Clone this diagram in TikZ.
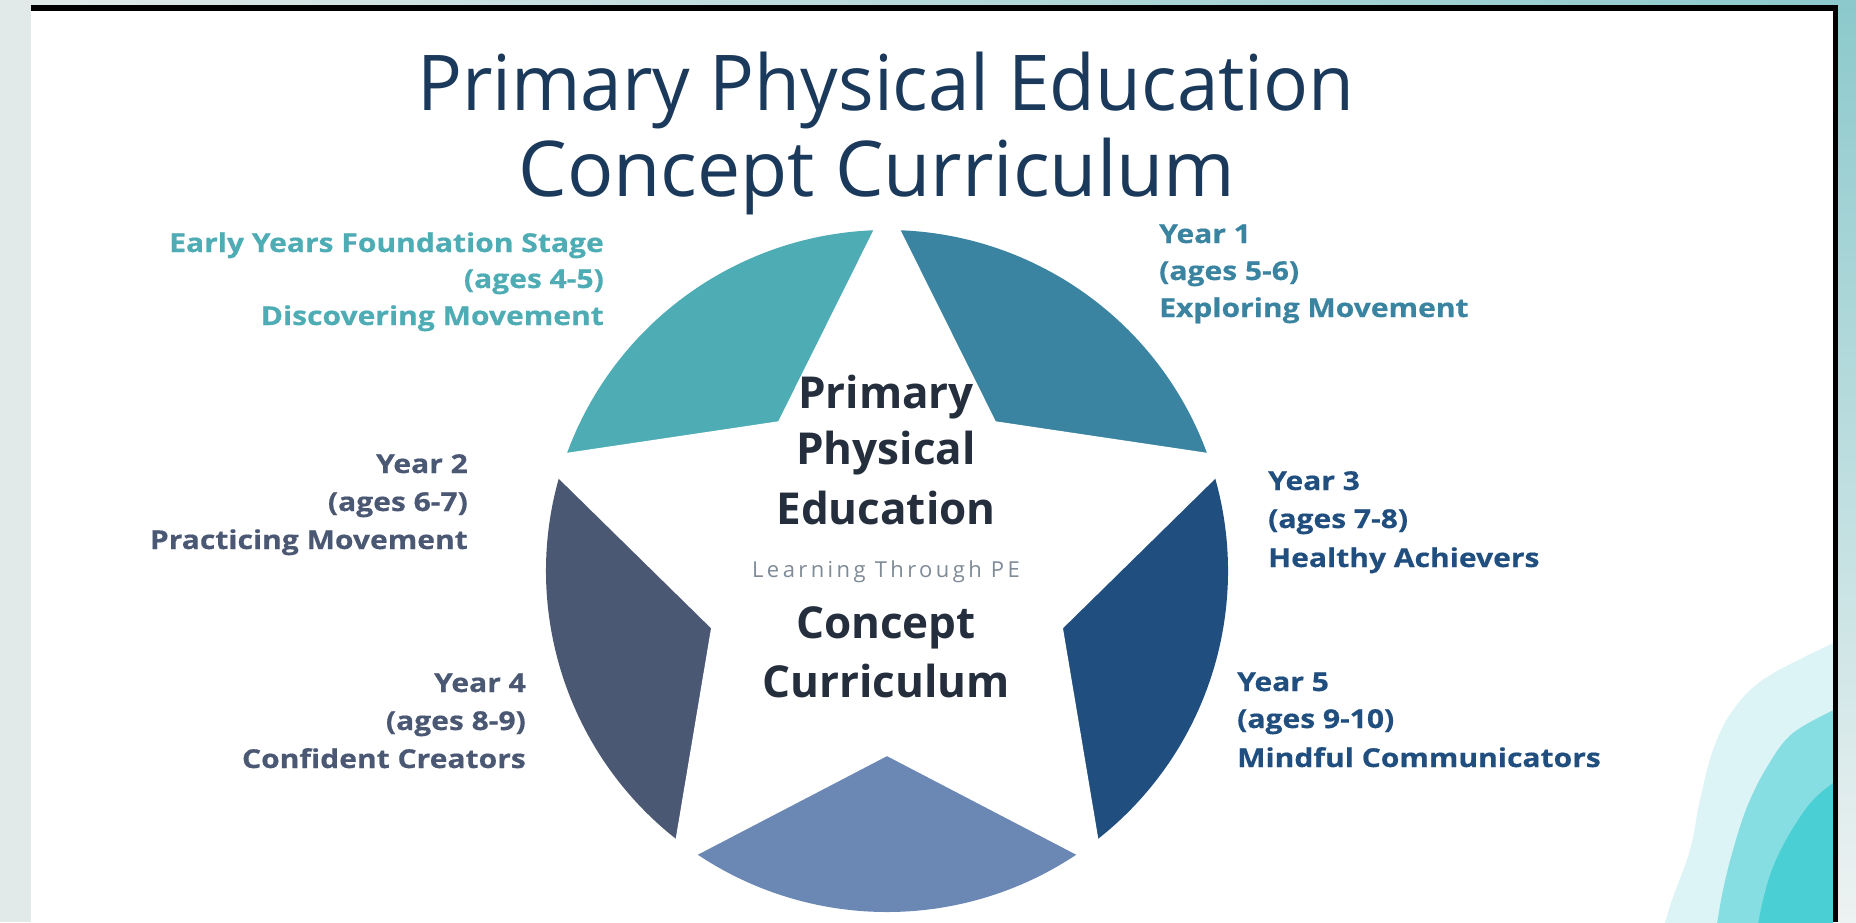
\documentclass[tikz,border=0pt]{standalone}
\usepackage{fontspec}
\setmainfont{Open Sans}
\definecolor{titlecol}{HTML}{1B3A5B}
\definecolor{segTL}{HTML}{4DACB4}
\definecolor{segTR}{HTML}{3A84A1}
\definecolor{segR}{HTML}{1F4E7F}
\definecolor{segB}{HTML}{6B88B5}
\definecolor{segL}{HTML}{4A5873}
\definecolor{centercol}{HTML}{252E3D}
\definecolor{subcol}{HTML}{7F8B97}
\definecolor{waveA}{HTML}{DCF4F5}
\definecolor{waveB}{HTML}{86DEE2}
\definecolor{waveC}{HTML}{4ACFD5}
\definecolor{bggray}{HTML}{E2EAE9}
\definecolor{bgteal}{HTML}{8CC9CC}
\definecolor{bglight}{HTML}{EDF2F2}
\begin{document}
\begin{tikzpicture}[x=1pt,y=-1pt,
  titletxt/.style={font=\fontsize{77}{85}\selectfont, text=titlecol, inner sep=0pt, anchor=base},
  ctr/.style={font=\fontsize{44}{50}\selectfont\bfseries, text=centercol, inner sep=0pt, anchor=base},
  subtxt/.style={font=\fontsize{22}{26}\selectfont\addfontfeature{LetterSpace=15.5}, text=subcol, inner sep=0pt, anchor=base},
  lblfont/.style={font=\fontsize{26}{30}\selectfont\bfseries\addfontfeature{FakeStretch=1.155,FakeBold=0.5}, inner sep=0pt},
  lblR/.style={lblfont, anchor=base east},
  lblL/.style={lblfont, anchor=base west}
]
\useasboundingbox (0,0) rectangle (1856,922);
% background outside slide
\fill[bggray] (0,0) rectangle (1856,922);
\shade[left color=bggray, right color=bgteal] (0,0) rectangle (1856,5);
\shade[top color=bgteal, bottom color=bglight] (1838,0) rectangle (1856,922);
% slide
\fill[white] (31,5) rectangle (1838,922);
\begin{scope}
  \clip (31,11) rectangle (1833,922);
  \fill[waveA] plot[smooth, tension=0.6] coordinates {(1840,640) (1767,677) (1733,710) (1713,750) (1700,800) (1690,850) (1672,900) (1663,930)} -- (1840,930) -- cycle;
  \fill[waveB] plot[smooth, tension=0.6] coordinates {(1840,707) (1793,733) (1767,767) (1747,807) (1733,850) (1723,890) (1716,930)} -- (1840,930) -- cycle;
  \fill[waveC] plot[smooth, tension=0.6] coordinates {(1840,778) (1813,800) (1790,833) (1773,867) (1763,900) (1757,930)} -- (1840,930) -- cycle;
\end{scope}
\fill[black] (31,5) rectangle (1838,11);
\fill[black] (1833,5) rectangle (1838,922);
% star wheel
\begin{scope}[shift={(887pt,-571pt)}, x=1pt, y=1pt]
  \fill[segTR] (0,0) -- (18:341) arc[start angle=18, end angle=90, radius=341] -- cycle;
  \fill[segTL] (0,0) -- (90:341) arc[start angle=90, end angle=162, radius=341] -- cycle;
  \fill[segL] (0,0) -- (162:341) arc[start angle=162, end angle=234, radius=341] -- cycle;
  \fill[segB] (0,0) -- (234:341) arc[start angle=234, end angle=306, radius=341] -- cycle;
  \fill[segR] (0,0) -- (306:341) arc[start angle=306, end angle=378, radius=341] -- cycle;
  \fill[white] (90:368) -- (126:185) -- (162:368) -- (198:185) -- (234:368) -- (270:185)
    -- (306:368) -- (342:185) -- (18:368) -- (54:185) -- cycle;
\end{scope}
% title
\node[titletxt, font=\fontsize{77}{85}\selectfont\addfontfeature{FakeStretch=0.97}] (t1) at (886,110) {Primary Physical Education};
\node[titletxt] (t2) at (877,196) {Concept Curriculum};
% centre
\node[ctr] (c1) at (886,408) {Primary};
\node[ctr] (c2) at (886,464) {Physical};
\node[ctr] (c3) at (886,524) {Education};
\node[subtxt] (c4) at (886,577) {Learning Through PE};
\node[ctr] (c5) at (886,638) {Concept};
\node[ctr] (c6) at (886,697) {Curriculum};
% labels
\node[lblR, text=segTL] (e1) at (604,252) {Early Years Foundation Stage};
\node[lblR, text=segTL] (e2) at (604,288) {(ages 4-5)};
\node[lblR, text=segTL] (e3) at (604,325) {Discovering Movement};
\node[lblL, text=segTR] (a1) at (1159,243) {Year 1};
\node[lblL, text=segTR] (a2) at (1159,280) {(ages 5-6)};
\node[lblL, text=segTR] (a3) at (1159,317) {Exploring Movement};
\node[lblR, text=segL] (b1) at (468,473) {Year 2};
\node[lblR, text=segL] (b2) at (468,511) {(ages 6-7)};
\node[lblR, text=segL] (b3) at (468,549) {Practicing Movement};
\node[lblL, text=segR] (d1) at (1268,490) {Year 3};
\node[lblL, text=segR] (d2) at (1268,528) {(ages 7-8)};
\node[lblL, text=segR] (d3) at (1268,567) {Healthy Achievers};
\node[lblR, text=segL] (f1) at (526,692) {Year 4};
\node[lblR, text=segL] (f2) at (526,730) {(ages 8-9)};
\node[lblR, text=segL] (f3) at (526,768) {Confident Creators};
\node[lblL, text=segR] (g1) at (1237,691) {Year 5};
\node[lblL, text=segR] (g2) at (1237,728) {(ages 9-10)};
\node[lblL, text=segR] (g3) at (1237,767) {Mindful Communicators};
\end{tikzpicture}
\end{document}
